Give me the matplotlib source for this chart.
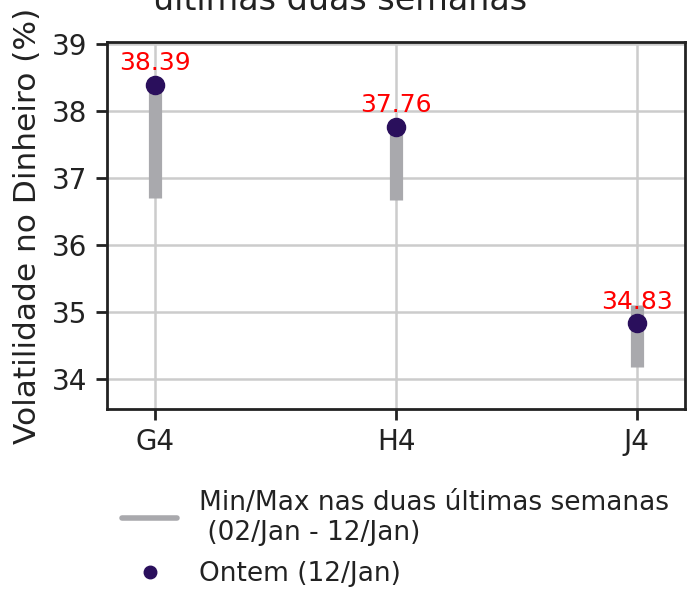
import numpy as np
import matplotlib
matplotlib.use('Agg')
from matplotlib import pyplot as plt
from matplotlib.lines import Line2D

# data
vencimentos = ['G4', 'H4', 'J4']
vol_min = [36.70, 36.67, 34.18]
vol_max = [38.39, 37.76, 35.10]
vol_ontem = [38.39, 37.76, 34.83]

plt.rcParams['font.family'] = ['DejaVu Sans']

fig = plt.figure(figsize=(6.93, 5.96), dpi=100)
ax = fig.add_axes([107 / 693, 1 - 409 / 596, (685 - 107) / 693, (409 - 42) / 596])

x = np.arange(len(vencimentos))

ax.vlines(x, vol_min, vol_max, color='#a9a9ad', lw=9.5, zorder=3)
ax.scatter(x, vol_ontem, s=170, color='#2a0f5c', zorder=4)

for xi, v in zip(x, vol_ontem):
    ax.annotate(f'{v:.2f}', (xi, v), xytext=(0, 7), textcoords='offset points',
                ha='center', va='bottom', color='red', fontsize=18)

ax.set_xlim(-0.2, 2.2)
ax.set_ylim(33.55, 39.03)
ax.set_xticks(x)
ax.set_xticklabels(vencimentos)
ax.set_yticks([34, 35, 36, 37, 38, 39])
ax.grid(True, color='#cccccc', lw=1.8, zorder=0)
ax.set_axisbelow(True)
for s in ax.spines.values():
    s.set_color('#222222')
    s.set_linewidth(2)
ax.tick_params(axis='both', labelsize=20, length=8, width=2, color='#222222',
               labelcolor='#222222', pad=6)
ax.set_ylabel('Volatilidade no Dinheiro (%)', fontsize=22.5, color='#222222', labelpad=7)

fig.text(0.49, 1.0, 'últimas duas semanas', ha='center', va='center',
         fontsize=24, color='#222222')

handles = [
    Line2D([], [], color='#a9a9ad', lw=4, solid_capstyle='round'),
    Line2D([], [], color='#2a0f5c', lw=0, marker='o', markersize=9),
]
labels = ['Min/Max nas duas últimas semanas\n (02/Jan - 12/Jan)', 'Ontem (12/Jan)']
ax.legend(handles, labels, loc='upper left', bbox_to_anchor=(-0.015, -0.155), frameon=False,
          fontsize=19, handlelength=2.1, handletextpad=0.8, labelspacing=0.6,
          labelcolor='#222222')

fig.savefig('out.png', dpi=100)
